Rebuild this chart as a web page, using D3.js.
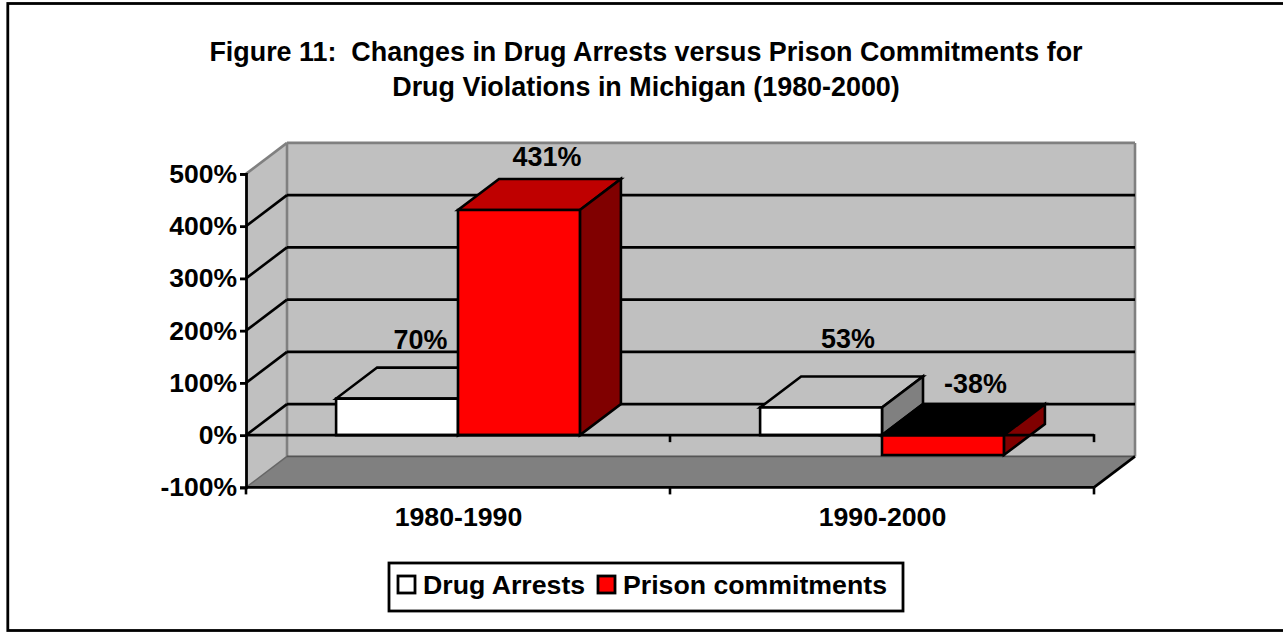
<!DOCTYPE html>
<html><head><meta charset="utf-8">
<script src="https://cdn.jsdelivr.net/npm/d3@7/dist/d3.min.js"></script>
<style>html,body{margin:0;padding:0;background:#fff;overflow:hidden}svg{display:block}text{font-family:"Liberation Sans",Arial,sans-serif;font-weight:bold;fill:#000}</style>
</head><body><svg id="c" width="1283" height="634"></svg>
<script>
const categories = ["1980-1990", "1990-2000"];
const seriesNames = ["Drug Arrests", "Prison commitments"];
const drugArrests = [70, 53];
const prisonCommitments = [431, -38];
const labelTexts = [["70%", "53%"], ["431%", "-38%"]];
const tickValues = [-100, 0, 100, 200, 300, 400, 500];
const titleLines = ["Figure 11:  Changes in Drug Arrests versus Prison Commitments for", "Drug Violations in Michigan (1980-2000)"];
const series = [drugArrests, prisonCommitments];

const svg = d3.select("#c");
const dx = 41, dy = -31;
const left = 246, right = 1094;
const y = d3.scaleLinear().domain([-100, 500]).range([487.4, 173.9]);
const x0 = d3.scaleBand().domain(categories).range([left, right]).paddingInner(0.425).paddingOuter(0.2125);
const x1 = d3.scaleBand().domain([0, 1]).range([0, x0.bandwidth()]);
const line = d3.line();
const poly = (g, pts, fill, stroke, sw) => g.append("path").attr("d", line(pts) + "Z")
  .attr("fill", fill).attr("stroke", stroke || "none").attr("stroke-width", sw || 0).attr("stroke-linejoin", "miter");
const seg = (g, a, b, stroke, sw) => g.append("path").attr("d", line([a, b])).attr("stroke", stroke).attr("stroke-width", sw).attr("fill", "none");

svg.append("rect").attr("x", 7.8).attr("y", 3.5).attr("width", 1290).attr("height", 627).attr("fill", "#fff").attr("stroke", "#000").attr("stroke-width", 2.8);

const title = svg.append("g");
titleLines.forEach((t, i) => title.append("text").attr("x", 646).attr("y", 60.8 + i * 35).attr("text-anchor", "middle").attr("font-size", 26.9).style("white-space", "pre").text(t));

// walls and floor
const yT = y(500), yB = y(-100);
const walls = svg.append("g");
poly(walls, [[left + dx, yT + dy], [right + dx, yT + dy], [right + dx, yB + dy], [left + dx, yB + dy]], "#c0c0c0");
poly(walls, [[left, yT], [left + dx, yT + dy], [left + dx, yB + dy], [left, yB]], "#c0c0c0");
poly(walls, [[left, yB], [left + dx, yB + dy], [right + dx, yB + dy], [right, yB]], "#808080");
seg(walls, [left, yT], [left + dx, yT + dy], "#808080", 2.6);
seg(walls, [left + dx, yT + dy], [right + dx, yT + dy], "#808080", 2.6);
seg(walls, [left + dx, yT + dy], [left + dx, yB + dy], "#808080", 2.6);
seg(walls, [right + dx, yT + dy], [right + dx, yB + dy], "#808080", 2.6);
seg(walls, [left + dx, yB + dy], [right + dx, yB + dy], "#555", 1.8);
seg(walls, [left, yB], [left + dx, yB + dy], "#666", 1.5);

// gridlines
const grid = svg.append("g");
tickValues.filter(v => v >= 0 && v < 500).forEach(v => {
  seg(grid, [left, y(v)], [left + dx, y(v) + dy], "#000", 2.6);
  seg(grid, [left + dx, y(v) + dy], [right + dx, y(v) + dy], "#000", 2.6);
});
// floor front edge and right edge
seg(grid, [left, yB], [right, yB], "#000", 2.8);
seg(grid, [right, yB], [right + dx, yB + dy], "#000", 2.6);

// bars
const colors = [{f: "#ffffff", t: "#c0c0c0", s: "#808080"}, {f: "#ff0000", t: "#bf0000", s: "#800000"}];
const bars = svg.append("g");
categories.forEach((c, ci) => {
  series.forEach((vals, si) => {
    const v = vals[ci];
    const a = x0(c) + x1(si), b = a + x1.bandwidth();
    const ytop = y(Math.max(v, 0)), ybot = y(Math.min(v, 0));
    const col = colors[si];
    const g = bars.append("g");
    poly(g, [[a, ytop], [b, ytop], [b + dx, ytop + dy], [a + dx, ytop + dy]], v < 0 ? "#000" : col.t, "#000", 2.6);
    poly(g, [[b, ytop], [b + dx, ytop + dy], [b + dx, ybot + dy], [b, ybot]], col.s, "#000", 2.6);
    poly(g, [[a, ytop], [b, ytop], [b, ybot], [a, ybot]], col.f, "#000", 2.6);
  });
});

// zero axis sits over the bars
const zero = svg.append("g");
seg(zero, [left, y(0)], [right, y(0)], "#000", 2.6);
[left + x0.step(), right].forEach(t => seg(zero, [t, y(0) - 1], [t, y(0) + 7], "#000", 2.6));

// data labels
const labelX = [[420.5, 848], [547, 975.5]];
const labelY = [[349, 348], [166, 393]];
series.forEach((vals, si) => vals.forEach((v, ci) => {
  svg.append("text").attr("x", labelX[si][ci]).attr("y", labelY[si][ci])
    .attr("text-anchor", "middle").attr("font-size", 26.9).text(labelTexts[si][ci]);
}));

// y axis
const yAxis = svg.append("g").attr("transform", `translate(${left},0)`).call(d3.axisLeft(y).tickValues(tickValues).tickFormat(d => d + "%").tickSize(6).tickPadding(3));
yAxis.selectAll("path,line").attr("stroke", "#000").attr("stroke-width", 2.8);
yAxis.selectAll("text").attr("font-size", 26.5).attr("font-family", null).attr("fill", "#000");
yAxis.attr("font-family", null);

// x axis
const xAxis = svg.append("g").attr("transform", `translate(0,${yB})`);
[left, left + x0.step(), right].forEach(t => seg(xAxis, [t, 0], [t, 7], "#000", 2.6));
categories.forEach(c => xAxis.append("text").attr("x", x0(c) + x0.bandwidth() / 2 + 0.5).attr("y", 39).attr("text-anchor", "middle").attr("font-size", 26.7).text(c));

// legend
const lg = svg.append("g");
lg.append("rect").attr("x", 389).attr("y", 563).attr("width", 514).attr("height", 48).attr("fill", "#fff").attr("stroke", "#000").attr("stroke-width", 2.8);
[[398, seriesNames[0], "#fff", 423], [598, seriesNames[1], "#f00", 623]].forEach(([sx, t, f, tx]) => {
  lg.append("rect").attr("x", sx).attr("y", 576).attr("width", 17).attr("height", 17).attr("fill", f).attr("stroke", "#000").attr("stroke-width", 2.8);
  lg.append("text").attr("x", tx).attr("y", 594).attr("font-size", 26.7).text(t);
});
</script></body></html>
